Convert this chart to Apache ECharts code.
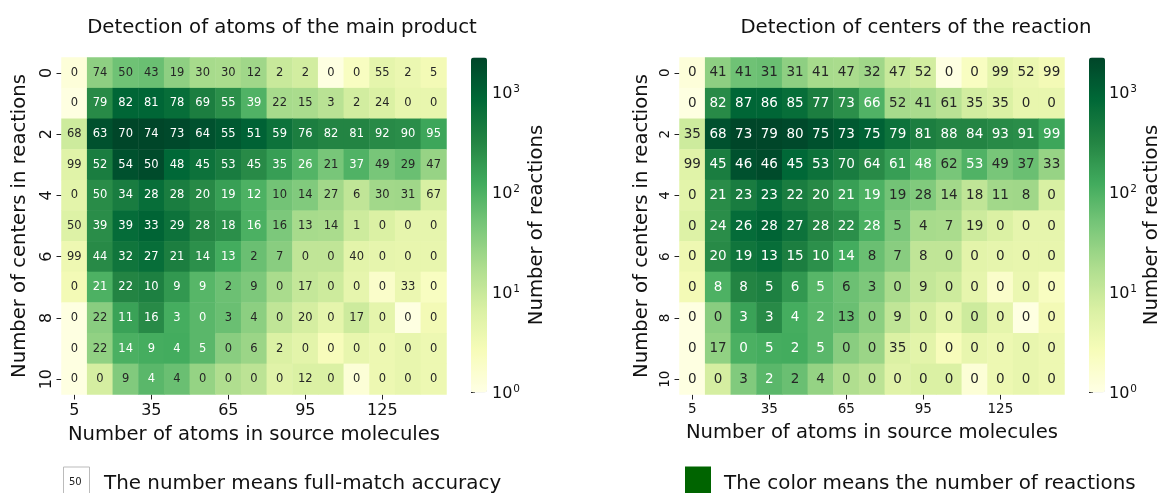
<!DOCTYPE html>
<html>
<head>
<meta charset="utf-8">
<script src="https://cdn.jsdelivr.net/npm/echarts@6/dist/echarts.min.js"></script>
<style>
  html, body { margin: 0; padding: 0; background: #ffffff; }
  #chart { width: 1163px; height: 493px; }
</style>
</head>
<body>
<div id="chart"></div>
<script>
// Bins: number of atoms in the source molecules (columns) and number of reaction centers (rows)
const atomBins = ['5', '15', '25', '35', '45', '55', '65', '75', '85', '95', '105', '115', '125', '135', '145'];
const centerBins = ['0', '1', '2', '3', '4', '5', '6', '7', '8', '9', '10'];

// Number of reactions per bin (shared by both panels, shown by colour on a log scale)
const reactionCounts = [
  [1.3, 32, 55, 60, 32, 20, 19, 23, 10, 8, 1.1, 2.2, 4.7, 3.8, 3],
  [1.1, 280, 900, 900, 700, 400, 250, 95, 20, 19, 14, 8, 6.5, 4.2, 4.2],
  [9, 1600, 2200, 2200, 2000, 1600, 1300, 1000, 600, 400, 330, 330, 280, 260, 140],
  [5.5, 420, 1600, 1900, 850, 600, 430, 280, 170, 90, 47, 95, 47, 60, 27],
  [5, 270, 430, 700, 420, 290, 165, 100, 52, 40, 22, 12, 22, 23, 7],
  [6, 260, 750, 950, 600, 330, 250, 105, 44, 20, 19, 9, 6.5, 4.5, 4.5],
  [3.5, 280, 550, 700, 400, 240, 120, 60, 35, 12, 12, 5, 4.5, 4.2, 4.2],
  [3, 100, 330, 380, 200, 85, 58, 43, 19, 11, 9, 4.5, 1.8, 3.8, 2.2],
  [1.1, 35, 155, 280, 115, 80, 60, 33, 12, 7.5, 4.7, 9, 4.7, 1.1, 3],
  [1.1, 30, 105, 115, 120, 80, 35, 25, 6.5, 5, 2.5, 4.2, 3.6, 4.2, 3.6],
  [1.1, 7.5, 40, 80, 60, 28, 17, 13, 5.5, 6.5, 6.5, 1.4, 3.6, 4.2, 3.6]
];

// Full-match accuracy (%), detection of atoms of the main product
const productAccuracy = [
  [0, 74, 50, 43, 19, 30, 30, 12, 2, 2, 0, 0, 55, 2, 5],
  [0, 79, 82, 81, 78, 69, 55, 39, 22, 15, 3, 2, 24, 0, 0],
  [68, 63, 70, 74, 73, 64, 55, 51, 59, 76, 82, 81, 92, 90, 95],
  [99, 52, 54, 50, 48, 45, 53, 45, 35, 26, 21, 37, 49, 29, 47],
  [0, 50, 34, 28, 28, 20, 19, 12, 10, 14, 27, 6, 30, 31, 67],
  [50, 39, 39, 33, 29, 28, 18, 16, 16, 13, 14, 1, 0, 0, 0],
  [99, 44, 32, 27, 21, 14, 13, 2, 7, 0, 0, 40, 0, 0, 0],
  [0, 21, 22, 10, 9, 9, 2, 9, 0, 17, 0, 0, 0, 33, 0],
  [0, 22, 11, 16, 3, 0, 3, 4, 0, 20, 0, 17, 0, 0, 0],
  [0, 22, 14, 9, 4, 5, 0, 6, 2, 0, 0, 0, 0, 0, 0],
  [0, 0, 9, 4, 4, 0, 0, 0, 0, 12, 0, 0, 0, 0, 0]
];

// Full-match accuracy (%), detection of reaction centers
const centerAccuracy = [
  [0, 41, 41, 31, 31, 41, 47, 32, 47, 52, 0, 0, 99, 52, 99],
  [0, 82, 87, 86, 85, 77, 73, 66, 52, 41, 61, 35, 35, 0, 0],
  [35, 68, 73, 79, 80, 75, 73, 75, 79, 81, 88, 84, 93, 91, 99],
  [99, 45, 46, 46, 45, 53, 70, 64, 61, 48, 62, 53, 49, 37, 33],
  [0, 21, 23, 23, 22, 20, 21, 19, 19, 28, 14, 18, 11, 8, 0],
  [0, 24, 26, 28, 27, 28, 22, 28, 5, 4, 7, 19, 0, 0, 0],
  [0, 20, 19, 13, 15, 10, 14, 8, 7, 8, 0, 0, 0, 0, 0],
  [0, 8, 8, 5, 6, 5, 6, 3, 0, 9, 0, 0, 0, 0, 0],
  [0, 0, 3, 3, 4, 2, 13, 0, 9, 0, 0, 0, 0, 0, 0],
  [0, 17, 0, 5, 2, 5, 0, 0, 35, 0, 0, 0, 0, 0, 0],
  [0, 0, 3, 2, 2, 4, 0, 0, 0, 0, 0, 0, 0, 0, 0]
];

// Colour scale upper bound (reactions)
const COUNT_MAX = 2240;

const FONT = 'DejaVu Sans';
const YLGN = ['#ffffe5', '#f7fcb9', '#d9f0a3', '#addd8e', '#78c679', '#41ab5d', '#238443', '#006837', '#004529'];
const LOG_MAX = Math.log10(COUNT_MAX);

function hexToRgb(h) {
  return [parseInt(h.slice(1, 3), 16), parseInt(h.slice(3, 5), 16), parseInt(h.slice(5, 7), 16)];
}
// Colour of the scale at position t in [0, 1]
function scaleColor(t) {
  t = Math.max(0, Math.min(1, t));
  const pos = t * (YLGN.length - 1);
  const i = Math.min(YLGN.length - 2, Math.floor(pos));
  const f = pos - i;
  const a = hexToRgb(YLGN[i]), b = hexToRgb(YLGN[i + 1]);
  return a.map((v, k) => v + (b[k] - v) * f);
}
// Dark text on light cells, white text on dark cells
function textColorFor(count) {
  const rgb = scaleColor(Math.log10(count) / LOG_MAX);
  const lin = rgb.map(v => {
    v /= 255;
    return v <= 0.03928 ? v / 12.92 : Math.pow((v + 0.055) / 1.055, 2.4);
  });
  const lum = 0.2126 * lin[0] + 0.7152 * lin[1] + 0.0722 * lin[2];
  return lum > 0.408 ? '#262626' : '#ffffff';
}

function buildCells(accuracy) {
  const cells = [];
  for (let r = 0; r < centerBins.length; r++) {
    for (let c = 0; c < atomBins.length; c++) {
      const count = reactionCounts[r][c];
      cells.push({
        value: [c, r, accuracy[r][c], Math.log10(count)],
        label: { color: textColorFor(count) }
      });
    }
  }
  return cells;
}

// Minor ticks of the colour bar at 2..9 within each decade
const minorTicks = [];
for (let d = 0; d < 4; d++) {
  for (let k = 2; k <= 9; k++) {
    const v = Math.log10(k * Math.pow(10, d));
    if (v <= LOG_MAX) minorTicks.push(v);
  }
}

// Panel geometry
const panels = [
  { left: 61.5, title: 'Detection of atoms of the main product', acc: productAccuracy,
    cbLeft: 471, cellFont: 11.5, tickFont: 16, yNameGap: 32, xNameGap: 30, titleX: 277, cbNameGap: 40 },
  { left: 679.5, title: 'Detection of centers of the reaction', acc: centerAccuracy,
    cbLeft: 1089, cellFont: 13.5, tickFont: 13.5, yNameGap: 28, xNameGap: 28, titleX: 911, cbNameGap: 38 }
];
const TOP = 57.5, W = 385, H = 337;

const grid = [], xAxis = [], yAxis = [], series = [], visualMap = [], title = [];

panels.forEach((p, i) => {
  const g = grid.length;
  grid.push({ left: p.left, top: TOP, width: W, height: H, containLabel: false });
  xAxis.push({
    type: 'category', gridIndex: g, data: atomBins, position: 'bottom',
    axisLine: { show: false },
    axisTick: { show: true, alignWithLabel: true, interval: 2, length: 5, lineStyle: { color: '#222' } },
    axisLabel: { interval: 2, fontFamily: FONT, fontSize: p.tickFont, color: '#111', margin: 8 },
    splitLine: { show: false },
    name: 'Number of atoms in source molecules', nameLocation: 'middle', nameGap: p.xNameGap,
    nameTextStyle: { fontFamily: FONT, fontSize: 19.6, color: '#111' }
  });
  yAxis.push({
    type: 'category', gridIndex: g, data: centerBins, inverse: true,
    axisLine: { show: false },
    axisTick: { show: true, alignWithLabel: true, interval: 1, length: 5, lineStyle: { color: '#222' } },
    axisLabel: { interval: 1, rotate: 90, fontFamily: FONT, fontSize: p.tickFont, color: '#111', margin: 7 },
    splitLine: { show: false },
    name: 'Number of centers in reactions', nameLocation: 'middle', nameGap: p.yNameGap, nameRotate: 90,
    nameTextStyle: { fontFamily: FONT, fontSize: 19.6, color: '#111' }
  });
  series.push({
    type: 'heatmap', xAxisIndex: g, yAxisIndex: g,
    data: buildCells(p.acc),
    label: { show: true, fontFamily: FONT, fontSize: p.cellFont, formatter: prm => String(prm.value[2]) },
    itemStyle: { borderWidth: 0 },
    emphasis: { disabled: true }
  });
  visualMap.push({
    type: 'continuous', seriesIndex: i, dimension: 3, min: 0, max: LOG_MAX,
    calculable: false, hoverLink: false, orient: 'vertical',
    left: p.cbLeft, top: TOP, itemWidth: 16, itemHeight: H - 2, padding: 0,
    text: null, showLabel: false,
    inRange: { color: YLGN }
  });

  // Colour bar axis: major decades with labels
  const cb = grid.length;
  grid.push({ left: p.cbLeft, top: TOP, width: 16, height: H - 2 });
  xAxis.push({ type: 'value', gridIndex: cb, show: false });
  yAxis.push({
    type: 'value', gridIndex: cb, min: 0, max: LOG_MAX, interval: 1, position: 'right',
    axisLine: { show: false },
    axisTick: { show: true, length: 4, lineStyle: { color: '#222' } },
    axisLabel: {
      margin: 5, showMaxLabel: false,
      formatter: v => '{b|10}{s|' + Math.round(v) + '}',
      rich: {
        b: { fontFamily: FONT, fontSize: 16, color: '#111', lineHeight: 18, verticalAlign: 'bottom' },
        s: { fontFamily: FONT, fontSize: 10.5, color: '#111', lineHeight: 18, verticalAlign: 'top', padding: [0, 0, 0, 1] }
      }
    },
    splitLine: { show: false },
    name: 'Number of reactions', nameLocation: 'middle', nameGap: p.cbNameGap, nameRotate: 90,
    nameTextStyle: { fontFamily: FONT, fontSize: 19.6, color: '#111' }
  });
  const cbm = grid.length;
  grid.push({ left: p.cbLeft, top: TOP, width: 16, height: H - 2 });
  xAxis.push({ type: 'value', gridIndex: cbm, show: false });
  yAxis.push({
    type: 'value', gridIndex: cbm, min: 0, max: LOG_MAX, position: 'right',
    axisLine: { show: false },
    axisTick: { show: true, length: 2, customValues: minorTicks, lineStyle: { color: '#222' } },
    axisLabel: { show: false },
    splitLine: { show: false }
  });

  title.push({
    text: p.title, left: p.titleX, top: 13, textAlign: 'center',
    textStyle: { fontFamily: FONT, fontSize: 19.7, fontWeight: 'normal', color: '#111' }
  });
});

const chart = echarts.init(document.getElementById('chart'), null, { renderer: 'canvas' });
chart.setOption({
  backgroundColor: '#ffffff',
  animation: false,
  title: title,
  grid: grid,
  xAxis: xAxis,
  yAxis: yAxis,
  visualMap: visualMap,
  series: series,
  graphic: [
    // Key for the cell numbers
    { type: 'rect', left: 63, top: 466.5, shape: { width: 26, height: 30 },
      style: { fill: '#ffffff', stroke: '#bbbbbb', lineWidth: 1 } },
    { type: 'text', left: 69, top: 477,
      style: { text: '50', fontFamily: FONT, fontSize: 10, fill: '#222' } },
    { type: 'text', left: 104, top: 474,
      style: { text: 'The number means full-match accuracy', fontFamily: FONT, fontSize: 19.9, fill: '#111' } },
    // Key for the cell colour
    { type: 'rect', left: 685, top: 466.5, shape: { width: 26, height: 30 },
      style: { fill: '#006400' } },
    { type: 'text', left: 724, top: 474,
      style: { text: 'The color means the number of reactions', fontFamily: FONT, fontSize: 19.9, fill: '#111' } }
  ]
});
</script>
</body>
</html>
